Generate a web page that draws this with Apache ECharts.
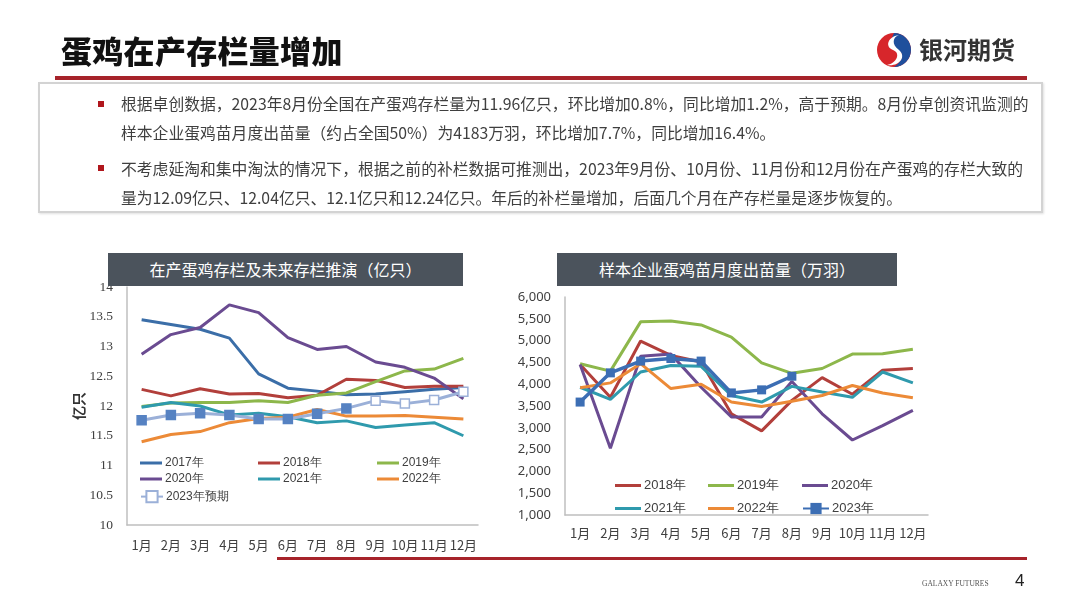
<!DOCTYPE html>
<html>
<head>
<meta charset="utf-8">
<script src="https://cdn.jsdelivr.net/npm/echarts@6/dist/echarts.min.js"></script>
<style>
  html, body { margin: 0; padding: 0; background: #fff; }
  body { width: 1080px; height: 608px; position: relative; overflow: hidden;
         font-family: "Noto Sans CJK SC", sans-serif; }
  #chart { position: absolute; left: 0; top: 0; width: 1080px; height: 608px; }
  .abs { position: absolute; white-space: nowrap; }
  #title { left: 61px; top: 27px; font-size: 31px; font-weight: 900; color: #111; letter-spacing: 0.3px; }
  #logoText { left: 919px; top: 31px; font-size: 24px; font-weight: 700; color: #333; }
  #redLine { left: 55px; top: 76px; width: 972px; height: 4px; background: #a6232a; }
  #box { left: 38px; top: 82px; width: 1001px; height: 127px; border: 2px solid #d3d3d3;
         box-shadow: 1px 1px 2px rgba(0,0,0,0.12); }
  .bullet { width: 6px; height: 6px; background: #b0161c; }
  .para { left: 121px; font-size: 15.8px; line-height: 29px; color: #3f3f3f; }
  .capBox { top: 253px; height: 33px; background: #4b535c; color: #fff; font-size: 16px;
            line-height: 33px; text-align: center; }
  #footLine { left: 277px; top: 557px; width: 750px; height: 3px; background: #a6232a; }
  #footText { left: 922px; top: 579px; font-size: 7.5px; color: #555; font-family: "Liberation Serif", serif; }
  #pageNo { left: 1015px; top: 571px; font-size: 17px; color: #222; font-family: "Liberation Sans", sans-serif; }
</style>
</head>
<body>
<div id="chart"></div>

<div class="abs" id="title">蛋鸡在产存栏量增加</div>
<svg class="abs" style="left:875px;top:31px" width="38" height="38" viewBox="0 0 38 38">
  <circle cx="19" cy="19" r="17" fill="#d7262b"/>
  <path d="M19 2 A17 17 0 0 1 36 19 A17 17 0 0 1 19 36 C28 30 30 22 22 19 C14 16 16 8 19 2 Z" fill="#1f4f9c"/>
  <path d="M24 4 C12 6 10 16 18 19 C26 22 22 32 12 34 C24 36 32 26 24 19 C16 13 18 6 24 4 Z" fill="#fff"/>
</svg>
<div class="abs" id="logoText">银河期货</div>
<div class="abs" id="redLine"></div>

<div class="abs" id="box"></div>
<div class="abs bullet" style="left:98px;top:101px"></div>
<div class="abs bullet" style="left:98px;top:165px"></div>
<div class="abs para" id="p1" style="top:89px">根据卓创数据，2023年8月份全国在产蛋鸡存栏量为11.96亿只，环比增加0.8%，同比增加1.2%，高于预期。8月份卓创资讯监测的<br>样本企业蛋鸡苗月度出苗量（约占全国50%）为4183万羽，环比增加7.7%，同比增加16.4%。</div>
<div class="abs para" id="p2" style="top:154px">不考虑延淘和集中淘汰的情况下，根据之前的补栏数据可推测出，2023年9月份、10月份、11月份和12月份在产蛋鸡的存栏大致的<br>量为12.09亿只、12.04亿只、12.1亿只和12.24亿只。年后的补栏量增加，后面几个月在产存栏量是逐步恢复的。</div>

<div class="abs capBox" style="left:108px;width:355px">在产蛋鸡存栏及未来存栏推演（亿只）</div>
<div class="abs capBox" style="left:557px;width:340px">样本企业蛋鸡苗月度出苗量（万羽）</div>

<div class="abs" id="footLine"></div>
<div class="abs" id="footText">GALAXY FUTURES</div>
<div class="abs" id="pageNo">4</div>

<script>
// --- data ---
const months = ['1月', '2月', '3月', '4月', '5月', '6月', '7月', '8月', '9月', '10月', '11月', '12月'];

// 在产蛋鸡存栏（亿只）
const stock2017 = [13.45, 13.37, 13.29, 13.14, 12.54, 12.30, 12.25, 12.19, 12.20, 12.24, 12.28, 12.31];
const stock2018 = [12.28, 12.17, 12.29, 12.20, 12.21, 12.14, 12.18, 12.45, 12.43, 12.31, 12.33, 12.33];
const stock2019 = [11.99, 12.05, 12.06, 12.06, 12.09, 12.06, 12.18, 12.22, 12.41, 12.59, 12.62, 12.80];
const stock2020 = [12.87, 13.20, 13.32, 13.70, 13.57, 13.15, 12.95, 13.00, 12.74, 12.65, 12.47, 12.12];
const stock2021 = [11.98, 12.06, 12.00, 11.85, 11.88, 11.82, 11.72, 11.75, 11.64, 11.68, 11.72, 11.50];
const stock2022 = [11.40, 11.52, 11.57, 11.72, 11.79, 11.81, 11.94, 11.83, 11.83, 11.84, 11.81, 11.78];
const stock2023 = [11.76, 11.85, 11.88, 11.85, 11.78, 11.78, 11.87, 11.96, 12.09, 12.04, 12.10, 12.24];
const stock2023Actual = 8; // 前8个月为实际值，其后为预期

// 样本企业蛋鸡苗月度出苗量（万羽）
const chicks2018 = [4450, 3700, 4990, 4660, 4510, 3320, 2930, 3630, 4150, 3770, 4320, 4360];
const chicks2019 = [4470, 4300, 5430, 5450, 5360, 5080, 4490, 4250, 4360, 4690, 4700, 4800];
const chicks2020 = [4450, 2530, 4640, 4690, 3930, 3250, 3250, 4060, 3320, 2720, 3050, 3400];
const chicks2021 = [3930, 3650, 4280, 4430, 4410, 3740, 3590, 3950, 3820, 3700, 4280, 4030];
const chicks2022 = [3920, 4030, 4470, 3900, 4000, 3590, 3490, 3610, 3740, 3970, 3800, 3690];
const chicks2023 = [3590, 4260, 4530, 4590, 4530, 3800, 3870, 4183];

const colors = {
    y2017: '#3b6ea8', y2018: '#b23f3b', y2019: '#8db74b', y2020: '#6a4b91',
    y2021: '#2f9aad', y2022: '#ec8a37', y2023: '#3c6eb4', fc: '#9bb0d8', fcDot: '#5682c2'
};

// --- helpers ---
const axisGray = '#bfbfbf';
const txt = '#404040';

function lineSeries(name, data, color, gi) {
    return {
        name, type: 'line', data, xAxisIndex: gi, yAxisIndex: gi,
        symbol: 'none', lineStyle: { color, width: 3 }, itemStyle: { color },
        animation: false, z: 3
    };
}

// 单项图例；plain=true 时只画一段线
function legendAt(name, x, y, fontSize, w, plain) {
    return {
        data: [plain ? { name, icon: 'rect' } : name], left: x, top: y - 7, padding: 0,
        itemWidth: w, itemHeight: plain ? 3 : 14, itemGap: 0,
        textStyle: { fontSize, color: txt, padding: [0, 0, 0, -2] },
        selectedMode: false
    };
}

// 2023 预期: 实际值实心方块，预期值空心方块
const stock2023Items = stock2023.map((v, i) => i < stock2023Actual
    ? { value: v, itemStyle: { color: colors.fcDot, borderColor: colors.fcDot } }
    : v);

const chart = echarts.init(document.getElementById('chart'), null, { renderer: 'canvas' });

chart.setOption({
    animation: false,
    grid: [
        { left: 127, top: 287, width: 351, height: 238 },
        { left: 565, top: 297, width: 363, height: 218 }
    ],
    xAxis: [0, 1].map(i => ({
        type: 'category', gridIndex: i, data: months, boundaryGap: true,
        axisLine: { lineStyle: { color: axisGray, width: 1.5 } },
        axisTick: { show: false },
        axisLabel: { color: txt, fontSize: 13, margin: i === 0 ? 14 : 12, interval: 0,
                     fontFamily: 'Noto Sans CJK SC' }
    })),
    yAxis: [
        {
            type: 'value', gridIndex: 0, min: 10, max: 14, interval: 0.5,
            name: '亿只', nameLocation: 'middle', nameGap: 32, nameRotate: 90,
            nameTextStyle: { fontSize: 14, fontWeight: 'bold', color: '#333', fontFamily: 'Noto Sans CJK SC' },
            axisLine: { show: true, lineStyle: { color: axisGray, width: 1.5 } },
            axisTick: { show: false }, splitLine: { show: false },
            axisLabel: { color: txt, fontSize: 13.5, margin: 14, fontFamily: 'Liberation Serif' }
        },
        {
            type: 'value', gridIndex: 1, min: 1000, max: 6000, interval: 500,
            axisLine: { show: true, lineStyle: { color: axisGray, width: 1.5 } },
            axisTick: { show: false }, splitLine: { show: false },
            axisLabel: { color: txt, fontSize: 13, margin: 14, fontFamily: 'Noto Sans',
                         formatter: v => v.toLocaleString('en-US') }
        }
    ],
    legend: [
        legendAt('2017年', 140, 464, 12, 22, true),
        legendAt('2018年', 258, 464, 12, 22, true),
        legendAt('2019年', 377, 464, 12, 22, true),
        legendAt('2020年', 140, 480, 12, 22, true),
        legendAt('2021年', 258, 480, 12, 22, true),
        legendAt('2022年', 377, 480, 12, 22, true),
        legendAt('2023年预期', 140, 497, 12, 22, false),
        legendAt('2018年 ', 615, 486, 13, 26, true),
        legendAt('2019年 ', 708, 486, 13, 26, true),
        legendAt('2020年 ', 802, 486, 13, 26, true),
        legendAt('2021年 ', 615, 509, 13, 26, true),
        legendAt('2022年 ', 708, 509, 13, 26, true),
        legendAt('2023年 ', 802, 509, 13, 26, false)
    ],
    series: [
        lineSeries('2017年', stock2017, colors.y2017, 0),
        lineSeries('2018年', stock2018, colors.y2018, 0),
        lineSeries('2019年', stock2019, colors.y2019, 0),
        lineSeries('2020年', stock2020, colors.y2020, 0),
        lineSeries('2021年', stock2021, colors.y2021, 0),
        lineSeries('2022年', stock2022, colors.y2022, 0),
        {
            name: '2023年预期', type: 'line', data: stock2023Items, xAxisIndex: 0, yAxisIndex: 0,
            symbol: 'rect', symbolSize: 9, showAllSymbol: true,
            lineStyle: { color: colors.fc, width: 3 },
            itemStyle: { color: '#fff', borderColor: colors.fc, borderWidth: 1.5 },
            z: 4
        },
        lineSeries('2018年 ', chicks2018, colors.y2018, 1),
        lineSeries('2019年 ', chicks2019, colors.y2019, 1),
        lineSeries('2020年 ', chicks2020, colors.y2020, 1),
        lineSeries('2021年 ', chicks2021, colors.y2021, 1),
        lineSeries('2022年 ', chicks2022, colors.y2022, 1),
        {
            name: '2023年 ', type: 'line', data: chicks2023, xAxisIndex: 1, yAxisIndex: 1,
            symbol: 'rect', symbolSize: 9, showAllSymbol: true,
            lineStyle: { color: colors.y2023, width: 3.5 },
            itemStyle: { color: colors.y2023 },
            z: 4
        }
    ]
});
</script>
</body>
</html>
